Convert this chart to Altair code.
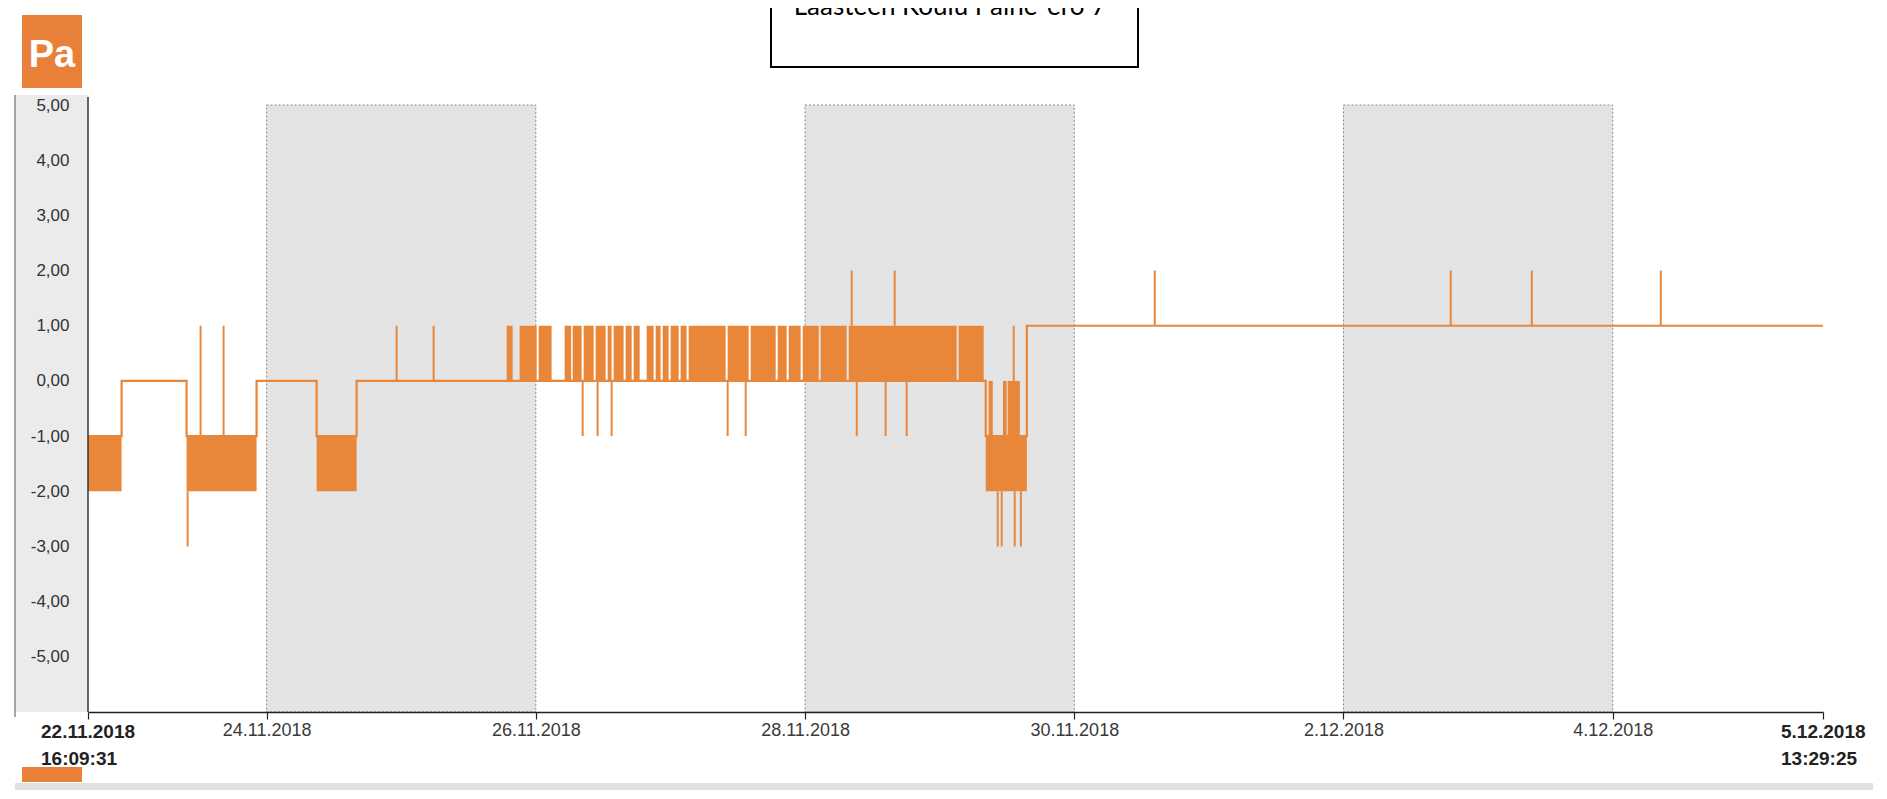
import altair as alt
import pandas as pd

ORANGE = "#E8873A"
BADGE = "#E8803A"

T_START = "2018-11-22T16:09:31"
T_END = "2018-12-05T13:29:25"

# ---- baseline step trace (value holds until next time) ----
step_time = [T_START, "2018-11-22T22:09", "2018-11-23T09:44", "2018-11-23T22:13",
             "2018-11-24T08:55", "2018-11-24T16:03", "2018-11-29T08:13",
             "2018-11-29T15:33", T_END]
step_value = [-1, 0, -1, 0, -1, 0, -1, 1, 1]

# ---- densely oscillating periods (drawn as filled blocks) ----
block_start = [T_START, "2018-11-23T09:44", "2018-11-24T08:55",
               "2018-11-25T18:48", "2018-11-25T21:07", "2018-11-26T00:30", "2018-11-26T05:08",
               "2018-11-26T06:34", "2018-11-26T08:32", "2018-11-26T10:40", "2018-11-26T12:48",
               "2018-11-26T13:52", "2018-11-26T16:01", "2018-11-26T17:27", "2018-11-26T19:46",
               "2018-11-26T21:22", "2018-11-26T22:37", "2018-11-27T00:02", "2018-11-27T01:49",
               "2018-11-27T03:15", "2018-11-27T10:12", "2018-11-27T14:18", "2018-11-27T19:07",
               "2018-11-27T21:05", "2018-11-27T23:35", "2018-11-28T02:47", "2018-11-28T07:47",
               "2018-11-29T03:23",
               "2018-11-29T08:13", "2018-11-29T08:44", "2018-11-29T11:17", "2018-11-29T12:08"]
block_end = ["2018-11-22T22:09", "2018-11-23T22:13", "2018-11-24T16:03",
             "2018-11-25T19:52", "2018-11-26T00:09", "2018-11-26T02:49", "2018-11-26T06:18",
             "2018-11-26T08:10", "2018-11-26T10:19", "2018-11-26T12:27", "2018-11-26T13:31",
             "2018-11-26T15:39", "2018-11-26T17:05", "2018-11-26T18:31", "2018-11-26T21:00",
             "2018-11-26T22:15", "2018-11-26T23:41", "2018-11-27T01:28", "2018-11-27T02:53",
             "2018-11-27T09:51", "2018-11-27T13:57", "2018-11-27T18:46", "2018-11-27T20:43",
             "2018-11-27T23:13", "2018-11-28T02:26", "2018-11-28T07:25", "2018-11-29T03:02",
             "2018-11-29T07:51",
             "2018-11-29T15:33", "2018-11-29T09:28", "2018-11-29T11:57", "2018-11-29T14:18"]
block_low = [-2, -2, -2] + [0] * 25 + [-2, -1, -1, -1]
block_high = [-1, -1, -1] + [1] * 25 + [-1, 0, 0, 0]

# ---- single short spikes ----
spike_time = ["2018-11-23T09:55", "2018-11-23T12:14", "2018-11-23T16:20", "2018-11-24T23:11",
              "2018-11-25T05:47", "2018-11-26T08:21", "2018-11-26T11:01", "2018-11-26T13:31",
              "2018-11-27T10:12", "2018-11-27T13:25", "2018-11-28T08:19", "2018-11-28T09:13",
              "2018-11-28T14:22", "2018-11-28T15:59", "2018-11-28T18:07", "2018-11-29T10:21",
              "2018-11-29T11:04", "2018-11-29T13:12", "2018-11-29T13:23", "2018-11-29T14:29",
              "2018-11-30T14:21", "2018-12-02T19:07", "2018-12-03T09:34", "2018-12-04T08:34"]
spike_from = [-2, -1, -1, 0, 0, 0, 0, 0, 0, 0, 1, 0, 0, 1, 0, -2, -2, 0, -2, -2, 1, 1, 1, 1]
spike_to = [-3, 1, 1, 1, 1, -1, -1, -1, -1, -1, 2, -1, -1, 2, -1, -3, -3, 1, -3, -3, 2, 2, 2, 2]

# ---- shaded periods ----
night_start = ["2018-11-24T00:00", "2018-11-28T00:00", "2018-12-02T00:00"]
night_end = ["2018-11-26T00:00", "2018-11-30T00:00", "2018-12-04T00:00"]
night_top = [5, 5, 5]
night_bottom = [-6, -6, -6]

y_ticks = [-5, -4, -3, -2, -1, 0, 1, 2, 3, 4, 5]
x_tick_dates = [T_START, "2018-11-24T00:00", "2018-11-26T00:00", "2018-11-28T00:00",
                "2018-11-30T00:00", "2018-12-02T00:00", "2018-12-04T00:00", T_END]

title_text = "Laasteen Koulu Paine-ero 7"
unit_text = "Pa"
end_label_time = [T_START, T_END]
end_label_date = ["22.11.2018", "5.12.2018"]
end_label_clock = ["16:09:31", "13:29:25"]


def ts(lst):
    return pd.to_datetime(lst, format="ISO8601")


def dt(s):
    t = pd.Timestamp(s)
    return alt.DateTime(year=t.year, month=t.month, date=t.day,
                        hours=t.hour, minutes=t.minute, seconds=t.second)


x_scale = alt.Scale(domain=[dt(T_START), dt(T_END)], nice=False)
y_scale = alt.Scale(domain=[-6, 5], nice=False, zero=False)

x_axis = alt.Axis(
    values=[dt(s) for s in x_tick_dates],
    labelExpr="timeFormat(datum.value, '%H:%M:%S') == '00:00:00' ? timeFormat(datum.value, '%-d.%m.%Y') : ''",
    title=None, grid=False, domainColor="#222", domainWidth=1.5,
    tickColor="#222", tickSize=7, tickWidth=1.2,
    labelFontSize=18, labelFont="Liberation Sans", labelColor="#3a3a3a",
    labelPadding=2, labelOverlap=False, labelFlush=False, zindex=2)

y_axis = alt.Axis(
    values=y_ticks,
    labelExpr="(datum.value < 0 ? '-' : '') + replace(format(abs(datum.value), '.2f'), '.', ',')",
    title=None, grid=False, domain=False, ticks=False,
    labelFontSize=17, labelFont="Liberation Sans", labelColor="#333",
    labelPadding=19, zindex=2)


def X(f):
    return alt.X(f, type="temporal", scale=x_scale, axis=x_axis)


def Y(f):
    return alt.Y(f, type="quantitative", scale=y_scale, axis=y_axis)


one = pd.DataFrame({"a": [0]})

step_df = pd.DataFrame({"time": ts(step_time), "value": step_value})
block_df = pd.DataFrame({"start": ts(block_start), "end": ts(block_end),
                         "low": block_low, "high": block_high})
spike_df = pd.DataFrame({"time": ts(spike_time), "v0": spike_from, "v1": spike_to})
night_df = pd.DataFrame({"start": ts(night_start), "end": ts(night_end),
                         "top": night_top, "bottom": night_bottom})
label_df = pd.DataFrame({"time": ts(end_label_time),
                         "date": end_label_date, "clock": end_label_clock})

# decorations
left_panel = alt.Chart(one).mark_rect(color="#ebebeb").encode(
    x=alt.value(-73), x2=alt.value(0), y=alt.value(-10), y2=alt.value(607))
left_border = alt.Chart(one).mark_rule(color="#8c8c8c", strokeWidth=1.5).encode(
    x=alt.value(-73), y=alt.value(-10), y2=alt.value(612))
y_line = alt.Chart(one).mark_rule(color="#333", strokeWidth=1.5).encode(
    x=alt.value(0), y=alt.value(-8), y2=alt.value(607))
badge = alt.Chart(one).mark_rect(color=BADGE).encode(
    x=alt.value(-66), x2=alt.value(-6), y=alt.value(-90), y2=alt.value(-17))
badge_text = alt.Chart(one).mark_text(
    text=unit_text, color="white", fontSize=38, fontWeight="bold",
    font="Liberation Sans Narrow, Liberation Sans", align="center", baseline="alphabetic").encode(
    x=alt.value(-36), y=alt.value(-38))
bottom_badge = alt.Chart(one).mark_rect(color=BADGE).encode(
    x=alt.value(-66), x2=alt.value(-6), y=alt.value(662), y2=alt.value(677))
bottom_stripe = alt.Chart(one).mark_rect(color="#dfe3de").encode(
    x=alt.value(-73), x2=alt.value(1800), y=alt.value(678), y2=alt.value(700))
title_box = alt.Chart(one).mark_rect(fill="white", stroke="black", strokeWidth=2).encode(
    x=alt.value(683), x2=alt.value(1050), y=alt.value(-130), y2=alt.value(-38))
title = alt.Chart(one).mark_text(
    text=title_text, color="black", fontSize=26, font="Lato", align="center",
    baseline="alphabetic").encode(x=alt.value(862), y=alt.value(-90))

# data layers
nights = alt.Chart(night_df).mark_rect(
    fill="#e4e4e4", stroke="#8a8a8a", strokeDash=[2, 2], strokeWidth=1).encode(
    x=X("start"), x2="end", y=Y("top"), y2="bottom")
blocks = alt.Chart(block_df).mark_rect(color=ORANGE).encode(
    x=X("start"), x2="end", y=Y("low"), y2="high")
step = alt.Chart(step_df).mark_line(
    interpolate="step-after", color=ORANGE, strokeWidth=2.2).encode(
    x=X("time"), y=Y("value"))
spikes = alt.Chart(spike_df).mark_rule(color=ORANGE, strokeWidth=2).encode(
    x=X("time"), y=Y("v0"), y2="v1")

lbl_kw = dict(align="left", baseline="alphabetic", fontSize=19, fontWeight="bold",
              font="Liberation Sans", color="#222")
start_date = alt.Chart(label_df.iloc[[0]]).mark_text(dx=-47, **lbl_kw).encode(
    x=X("time"), y=alt.value(633), text="date:N")
start_clock = alt.Chart(label_df.iloc[[0]]).mark_text(dx=-47, **lbl_kw).encode(
    x=X("time"), y=alt.value(660), text="clock:N")
end_date = alt.Chart(label_df.iloc[[1]]).mark_text(dx=-42, **lbl_kw).encode(
    x=X("time"), y=alt.value(633), text="date:N")
end_clock = alt.Chart(label_df.iloc[[1]]).mark_text(dx=-42, **lbl_kw).encode(
    x=X("time"), y=alt.value(660), text="clock:N")

chart = alt.layer(
    left_panel, left_border, nights, blocks, step, spikes, y_line,
    badge, badge_text, bottom_badge, bottom_stripe, title_box, title,
    start_date, start_clock, end_date, end_clock
).properties(
    width=1735, height=607,
    padding={"left": 80, "top": 97, "right": 50, "bottom": 78},
    autosize=alt.AutoSizeParams(type="none"),
    background="white",
).configure_view(stroke=None)

chart.save("out.html", embed_options={"renderer": "svg", "actions": False})
